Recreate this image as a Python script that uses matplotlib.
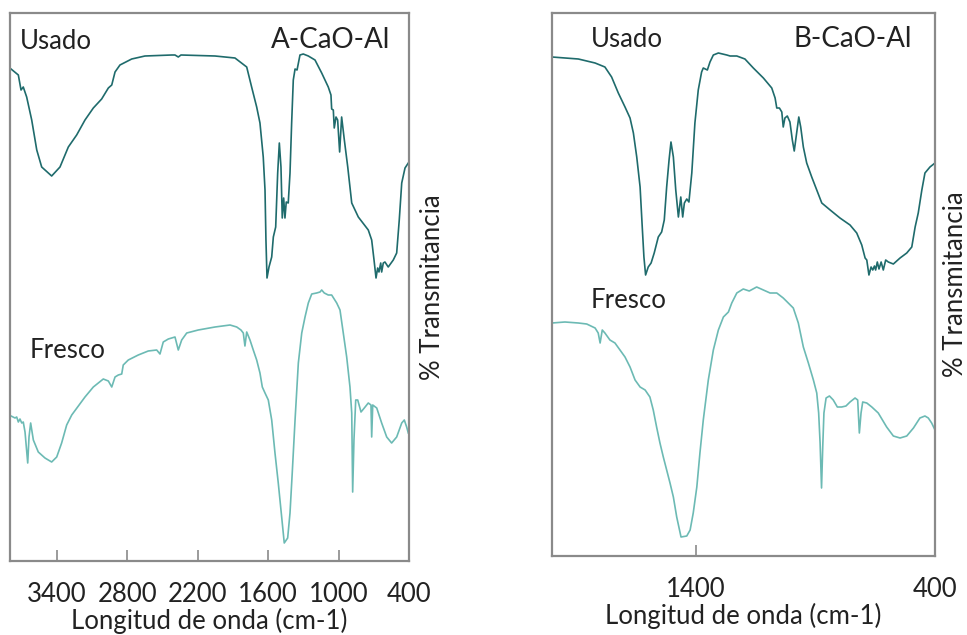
import matplotlib
matplotlib.use("Agg")
import matplotlib.pyplot as plt

plt.rcParams["font.family"] = ["Lato", "DejaVu Sans"]

# ---- A-CaO-Al : used catalyst (wavenumber cm-1, transmittance a.u.) ----
a_usado_wn = [3791, 3729, 3706, 3687, 3658, 3615, 3572, 3530, 3445, 3374, 3303, 3232,
              3161, 3090, 3019, 2962, 2933, 2905, 2863, 2763, 2650, 2422, 2394, 2366,
              2343, 2053, 1883, 1783, 1741, 1698, 1670, 1642, 1627, 1619, 1610, 1593,
              1570, 1556, 1536, 1519, 1505, 1491, 1480, 1468, 1457, 1446, 1429, 1414,
              1400, 1386, 1371, 1354, 1329, 1301, 1258, 1201, 1144, 1088, 1065, 1059,
              1045, 1037, 1022, 1008, 991, 974, 951, 922, 888, 832, 747, 718, 698,
              681, 667, 656, 641, 633, 619, 605, 577, 534, 505, 483, 462, 434, 406]
a_usado_t = [492, 486, 471, 474, 464, 441, 411, 394, 385, 394, 414, 426,
             441, 453, 462, 473, 476, 489, 496, 502, 505, 506, 506, 504,
             506, 505, 503, 494, 474, 454, 438, 404, 371, 321, 283, 294,
             304, 324, 334, 388, 418, 394, 343, 363, 343, 359, 358, 388,
             438, 481, 492, 491, 506, 507, 505, 501, 488, 474, 466, 452,
             451, 433, 444, 441, 409, 444, 421, 394, 358, 344, 331, 321, 301,
             283, 293, 289, 298, 289, 298, 299, 294, 301, 308, 341, 378, 393, 398]

# ---- A-CaO-Al : fresh catalyst ----
a_fresco_wn = [3791, 3757, 3743, 3729, 3715, 3700, 3687, 3672, 3649, 3638, 3624, 3601,
               3559, 3502, 3445, 3402, 3360, 3317, 3274, 3161, 3090, 3005, 2962, 2933,
               2905, 2877, 2848, 2835, 2792, 2707, 2622, 2550, 2522, 2494, 2451, 2394,
               2366, 2337, 2294, 2196, 2053, 1925, 1868, 1832, 1812, 1798, 1783, 1755,
               1727, 1698, 1670, 1650, 1627, 1599, 1570, 1542, 1514, 1485, 1463, 1434,
               1414, 1395, 1371, 1343, 1314, 1286, 1258, 1229, 1187, 1158, 1144, 1122,
               1088, 1059, 1016, 988, 960, 931, 903, 888, 880, 869, 854, 837, 809,
               781, 747, 724, 718, 709, 675, 633, 590, 548, 505, 462, 440, 420, 406]
a_fresco_t = [145, 143, 144, 139, 142, 138, 139, 129, 98, 124, 138, 121,
              109, 103, 99, 104, 118, 136, 146, 164, 174, 182, 180, 174,
              184, 186, 187, 196, 201, 206, 210, 211, 207, 219, 222, 224,
              211, 221, 228, 231, 234, 236, 234, 231, 228, 215, 229, 221,
              211, 201, 188, 174, 168, 161, 141, 108, 78, 44, 18, 23,
              48, 88, 141, 198, 228, 244, 258, 267, 268, 269, 271, 268,
              266, 266, 258, 251, 228, 204, 174, 148, 69, 121, 161, 161, 149,
              153, 158, 156, 124, 156, 153, 138, 124, 118, 124, 138, 141, 134, 128]

# ---- B-CaO-Al : used catalyst ----
b_usado_wn = [2000, 1890, 1820, 1779, 1751, 1723, 1695, 1674, 1660, 1646, 1632, 1623,
              1616, 1609, 1598, 1586, 1573, 1556, 1542, 1531, 1521, 1511, 1503, 1493,
              1483, 1472, 1462, 1454, 1447, 1437, 1428, 1416, 1403, 1389, 1375, 1368,
              1351, 1340, 1326, 1305, 1270, 1256, 1228, 1194, 1159, 1117, 1082, 1068,
              1061, 1050, 1040, 1034, 1027, 1017, 1006, 996, 988, 978, 969, 961, 950,
              936, 915, 894, 873, 838, 797, 755, 727, 706, 692, 685, 676, 667, 660,
              653, 648, 641, 634, 625, 616, 606, 595, 574, 546, 518, 497, 483, 470,
              455, 442, 421, 400]
b_usado_t = [499, 497, 493, 489, 479, 463, 449, 438, 423, 399, 369, 329,
             299, 281, 289, 293, 303, 319, 324, 336, 369, 396, 414, 399,
             366, 339, 359, 339, 353, 357, 354, 383, 433, 466, 484, 488,
             486, 494, 501, 503, 501, 500, 500, 497, 488, 478, 468, 458,
             448, 448, 444, 429, 438, 440, 434, 416, 405, 423, 439, 429, 409,
             393, 379, 366, 353, 346, 338, 331, 323, 311, 298, 296, 281, 289, 286,
             290, 286, 294, 287, 294, 286, 296, 294, 292, 298, 303, 309, 329, 343,
             366, 383, 389, 393]

# ---- B-CaO-Al : fresh catalyst ----
b_fresco_wn = [2000, 1946, 1890, 1855, 1820, 1807, 1799, 1790, 1779, 1758, 1737, 1716,
               1695, 1674, 1653, 1632, 1611, 1591, 1577, 1563, 1549, 1535, 1521, 1507,
               1493, 1479, 1461, 1437, 1423, 1410, 1395, 1382, 1368, 1347, 1326, 1305,
               1284, 1263, 1249, 1228, 1201, 1176, 1145, 1117, 1089, 1061, 1034, 1013,
               992, 971, 950, 929, 908, 894, 886, 880, 874, 869, 864, 855, 841, 825,
               808, 790, 772, 755, 734, 723, 716, 709, 702, 685, 664, 637, 602, 574,
               546, 518, 490, 463, 442, 428, 414, 400]
b_fresco_t = [233, 234, 233, 232, 228, 223, 213, 226, 223, 216, 213, 206,
              199, 189, 176, 169, 166, 159, 146, 129, 113, 99, 86, 73,
              59, 39, 19, 20, 26, 43, 69, 103, 136, 176, 206, 226,
              239, 244, 253, 263, 267, 265, 269, 266, 263, 263, 258, 253,
              248, 233, 209, 193, 176, 163, 143, 113, 68, 109, 143, 158, 160, 156,
              149, 149, 150, 154, 158, 156, 123, 143, 154, 153, 149, 143, 129, 120,
              118, 120, 128, 138, 140, 138, 133, 126]

a_ticks = [3400, 2800, 2200, 1600, 1000, 400]
b_ticks = [1400, 400]

c_usado = "#1f6b6c"
c_fresco = "#6cbab4"
c_spine = "#8a8a8a"
c_text = "#222222"

fig = plt.figure(figsize=(9.67, 6.35), dpi=100)
ax_a = fig.add_axes([10 / 967, 1 - 561 / 635, 399 / 967, 548 / 635])
ax_b = fig.add_axes([552 / 967, 1 - 556 / 635, 383 / 967, 543 / 635])

fs = 18.5

def style(ax, xlim, ylim, ticks, title, title_x, ylabel_pad):
    ax.set_xlim(*xlim)
    ax.set_ylim(*ylim)
    ax.set_xticks(ticks)
    ax.set_xticklabels([str(t) for t in ticks])
    ax.set_yticks([])
    for s in ax.spines.values():
        s.set_color(c_spine)
        s.set_linewidth(1.6)
    ax.tick_params(axis="x", direction="in", length=8, width=1.2, color=c_spine,
                   labelsize=fs, labelcolor=c_text, pad=15)
    ax.set_xlabel("Longitud de onda (cm-1)", fontsize=fs, color=c_text, labelpad=1)
    ax.yaxis.set_label_position("right")
    ax.set_ylabel("% Transmitancia", fontsize=fs, color=c_text, labelpad=ylabel_pad)
    ax.text(title_x, 0.937, title, transform=ax.transAxes, ha="right",
            va="baseline", fontsize=fs + 1.5, color=c_text)

style(ax_a, (3800, 400), (0, 548), a_ticks, "A-CaO-Al", 0.952, 8)
style(ax_b, (2000, 400), (0, 543), b_ticks, "B-CaO-Al", 0.940, 6)

ax_a.plot(a_usado_wn, a_usado_t, color=c_usado, lw=1.2)
ax_a.plot(a_fresco_wn, a_fresco_t, color=c_fresco, lw=1.2)
ax_b.plot(b_usado_wn, b_usado_t, color=c_usado, lw=1.2)
ax_b.plot(b_fresco_wn, b_fresco_t, color=c_fresco, lw=1.2)

ax_a.text(0.025, 0.934, "Usado", transform=ax_a.transAxes, va="baseline",
          fontsize=fs, color=c_text)
ax_a.text(0.050, 0.370, "Fresco", transform=ax_a.transAxes, va="baseline",
          fontsize=fs, color=c_text)
ax_b.text(0.102, 0.937, "Usado", transform=ax_b.transAxes, va="baseline",
          fontsize=fs, color=c_text)
ax_b.text(0.102, 0.457, "Fresco", transform=ax_b.transAxes, va="baseline",
          fontsize=fs, color=c_text)

fig.savefig("out.png", dpi=100, facecolor="white")
